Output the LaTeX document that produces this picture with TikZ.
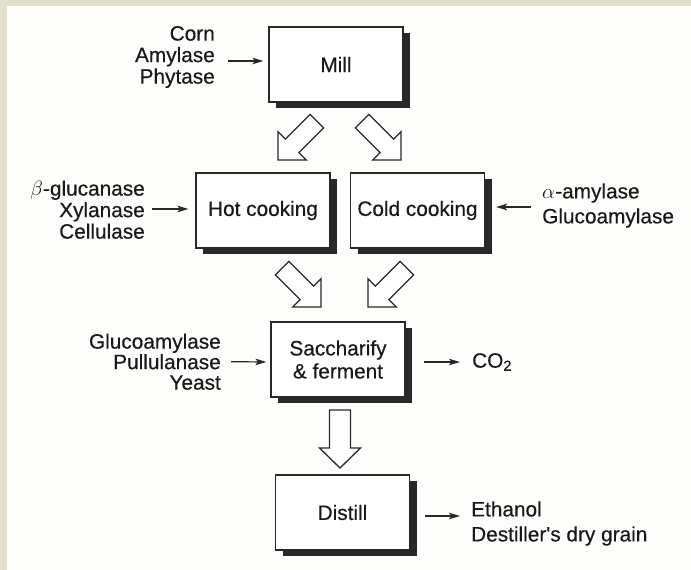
\documentclass[tikz,border=0pt]{standalone}
\usepackage{fontspec}
\setmainfont{Liberation Sans}[FakeBold=0.4]
\usetikzlibrary{shadows,arrows.meta,calc}
\definecolor{beige}{RGB}{226,224,204}
\definecolor{paper}{RGB}{253,253,251}
\definecolor{ink}{RGB}{40,40,40}
\definecolor{txt}{RGB}{25,25,25}
\begin{document}
\begin{tikzpicture}[x=1pt,y=1pt,
  box/.style={draw=ink, line width=1.2pt, fill=white, minimum width=134pt, minimum height=75pt,
    inner sep=0pt, align=center, text=txt, font=\fontsize{20.8}{23}\selectfont,
    drop shadow={shadow xshift=7pt, shadow yshift=-6pt, opacity=1, fill=ink}},
  lbl/.style={inner sep=0pt, text=txt},
  arr/.style={draw=ink, line width=1.2pt, -{Stealth[length=11pt,width=6.5pt,inset=2.5pt]}},
  blk/.style={draw=ink, line width=1.3pt, fill=white, line join=miter},
  diagarrow/.pic={\draw[blk] (0,0) -- (-20,20) -- (-20,9.5) -- (-55,9.5) -- (-55,-9.5) -- (-20,-9.5) -- (-20,-20) -- cycle;},
  downarrow/.pic={\draw[blk] (0,0) -- (-20,20.5) -- (-20,10.5) -- (-58,10.5) -- (-58,-10.5) -- (-20,-10.5) -- (-20,-20.5) -- cycle;}
]
% background
\fill[paper] (0,0) rectangle (691,570);
\fill[beige] (0,0) rectangle (7,570);
\fill[beige] (0,564) rectangle (691,570);
\useasboundingbox (0,0) rectangle (691,570);

% boxes
\node[box] (mill) at (336,505.5) {Mill};
\node[box] (hot) at (263,359.5) {Hot cooking};
\node[box] (cold) at (417.5,359.5) {Cold cooking};
\node[box] (sac) at (338,210.5) {Saccharify\\\& ferment};
\node[box] (dist) at (342.5,57.5) {Distill};

% side labels
\node[lbl, anchor=east, align=right, font=\fontsize{20.8}{21.5}\selectfont] (in1) at (215,513) {Corn\\Amylase\\Phytase};
\node[lbl, anchor=east, align=right, font=\fontsize{20.8}{21.5}\selectfont] (in2) at (145,360.3) {$\beta$-glucanase\\Xylanase\\Cellulase};
\node[lbl, anchor=west, align=left, font=\fontsize{20.8}{25}\selectfont] (in3) at (542,364.5) {$\alpha$-amylase\\Glucoamylase};
\node[lbl, anchor=east, align=right, font=\fontsize{20.8}{20.5}\selectfont] (in4) at (221,208.3) {Glucoamylase\\Pullulanase\\Yeast};
\node[lbl, anchor=west, font=\fontsize{20.8}{23}\selectfont] (co2) at (472,208) {CO\textsubscript{2}};
\node[lbl, anchor=west, align=left, font=\fontsize{20.8}{25}\selectfont] (out) at (471,46.5) {Ethanol\\Destiller\textquotesingle s dry grain};

% thin arrows
\draw[arr] ($(in1.east)+(13,-4)$) -- ($(mill.west)+(-5,3.5)$);
\draw[arr] ($(in2.east)+(7,0.7)$) -- ($(hot.west)+(-7,1.5)$);
\draw[arr] ($(in3.west)+(-11,-1.5)$) -- ($(cold.east)+(11,3.5)$);
\draw[arr] ($(in4.east)+(10,0)$) -- ($(sac.west)+(-4,-2.5)$);
\draw[arr] ($(sac.east)+(18,-2.5)$) -- ($(co2.west)+(-12,0)$);
\draw[arr] ($(dist.east)+(15,-3.5)$) -- ($(out.west)+(-11,7.5)$);

% block arrows
\pic[rotate=225] at (278,410) {diagarrow};
\pic[rotate=-45] at (401,410) {diagarrow};
\pic[rotate=-45] at (321,263) {diagarrow};
\pic[rotate=225] at (368,263) {diagarrow};
\pic[rotate=-90] at (340,102) {downarrow};
\end{tikzpicture}
\end{document}
